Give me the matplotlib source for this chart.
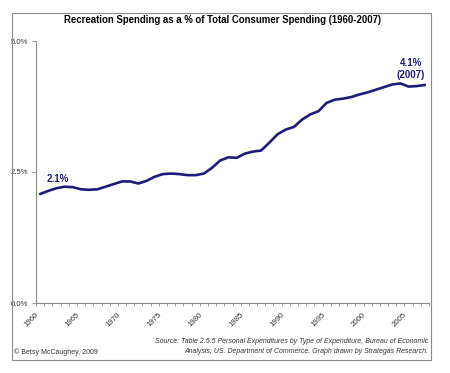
import numpy as np
import matplotlib
matplotlib.use("Agg")
import matplotlib.pyplot as plt
from matplotlib.patches import Rectangle

plt.rcParams['font.family'] = ['Liberation Sans', 'DejaVu Sans']

# data (percent of total consumer spending)
years = list(range(1960, 2008))
recreation_pct = [2.08, 2.14, 2.19, 2.22, 2.21, 2.17, 2.16, 2.17, 2.22, 2.27,
                  2.32, 2.32, 2.28, 2.33, 2.41, 2.46, 2.47, 2.46, 2.44, 2.44,
                  2.47, 2.58, 2.72, 2.78, 2.77, 2.85, 2.89, 2.91, 3.06, 3.22,
                  3.31, 3.36, 3.50, 3.60, 3.66, 3.82, 3.88, 3.90, 3.93, 3.98,
                  4.02, 4.07, 4.12, 4.17, 4.19, 4.13, 4.14, 4.16]
year_labels = [1960, 1965, 1970, 1975, 1980, 1985, 1990, 1995, 2000, 2005]
y_ticks = [0.0, 2.5, 5.0]

navy = '#1c1c7a'
gray = '#8c8c8c'
txt = '#333333'

fig = plt.figure(figsize=(4.5, 3.73), dpi=100)
fig.patch.set_facecolor('white')

# outer border box
fig.patches.append(Rectangle((12/450, 1-360/373), 418.5/450, 347/373,
                             transform=fig.transFigure, fill=False,
                             edgecolor=gray, lw=0.8))

ax = fig.add_axes([36/450, 1-303/373, 393/450, 262/373])
ax.plot(years, recreation_pct, color=navy, lw=1.9, solid_capstyle='round')

ax.set_xlim(1959.5, 2007.5)
ax.set_ylim(0, 5.0)
ax.set_yticks(y_ticks)
ax.set_yticklabels(['%.1f%%' % v for v in y_ticks], fontsize=5.6, color=txt)
ax.set_xticks(np.arange(1959.5, 2008, 1))
ax.set_xticklabels([])
ax.set_xticks(year_labels, minor=True)
ax.set_xticklabels([str(y) for y in year_labels], minor=True, rotation=45,
                   fontsize=5.6, color=txt, ha='right', va='top')
ax.tick_params(axis='x', which='major', length=2.2, width=0.6, color=gray, direction='out')
ax.tick_params(axis='x', which='minor', length=0, pad=6)
ax.tick_params(axis='y', length=3, width=0.6, color=gray, pad=3)

for s in ['top', 'right']:
    ax.spines[s].set_visible(False)
for s in ['left', 'bottom']:
    ax.spines[s].set_color(gray)
    ax.spines[s].set_linewidth(0.8)

ax.text(1962.2, 2.30, '2.1%', color=navy, fontsize=7, fontweight='bold', ha='center')
ax.text(2005.3, 4.52, '4.1%', color=navy, fontsize=7, fontweight='bold', ha='center')
ax.text(2005.3, 4.29, '(2007)', color=navy, fontsize=7, fontweight='bold', ha='center')

fig.text(222/450, 1-20/373, 'Recreation Spending as a % of Total Consumer Spending (1960-2007)',
         ha='center', va='center', fontsize=6.9, fontweight='bold')
fig.text(428/450, 1-346.5/373,
         'Source: Table 2.5.5 Personal Expenditures by Type of Expenditure, Bureau of Economic\n'
         'Analysis, US. Department of Commerce. Graph drawn by Strategas Research.',
         ha='right', va='center', fontsize=5.0, style='italic', color=txt,
         linespacing=1.45)
fig.text(14/450, 1-352/373, '\u00a9 Betsy McCaughey, 2009', ha='left', va='center',
         fontsize=5.0, color=txt)

fig.savefig('out.png', dpi=100)
